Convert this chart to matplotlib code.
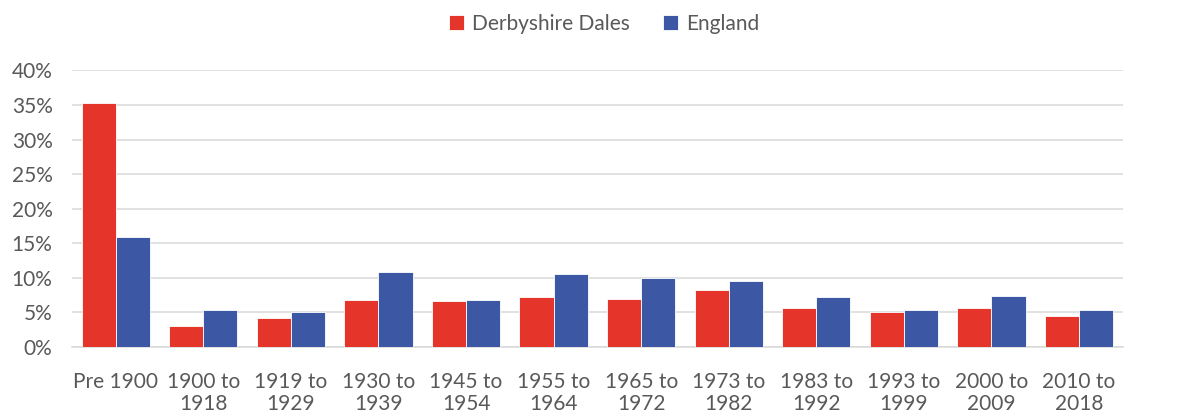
import matplotlib.pyplot as plt
from matplotlib.ticker import FuncFormatter
import numpy as np

periods = ['Pre 1900', '1900 to\n1918', '1919 to\n1929', '1930 to\n1939',
           '1945 to\n1954', '1955 to\n1964', '1965 to\n1972', '1973 to\n1982',
           '1983 to\n1992', '1993 to\n1999', '2000 to\n2009', '2010 to\n2018']
derbyshire = [35.3, 3.0, 4.2, 6.8, 6.7, 7.3, 6.9, 8.3, 5.6, 5.1, 5.6, 4.5]
england = [15.9, 5.4, 5.1, 10.8, 6.8, 10.5, 10.0, 9.5, 7.3, 5.3, 7.4, 5.4]

RED = '#E5352A'
BLUE = '#3C57A3'
TXT = '#595959'

plt.rcParams['font.family'] = ['Lato', 'DejaVu Sans']

fig = plt.figure(figsize=(11.78, 4.19), dpi=100)
ax = fig.add_axes([0.0611, 0.1718, 0.892, 0.66])

x = np.arange(len(periods))
w = 0.39
ax.bar(x - w / 2, derbyshire, w, color=RED, edgecolor='white', linewidth=0.6,
       label='Derbyshire Dales', zorder=3)
ax.bar(x + w / 2, england, w, color=BLUE, edgecolor='white', linewidth=0.6,
       label='England', zorder=3)

ax.set_xlim(-0.5, len(periods) - 0.5)
ax.set_ylim(0, 40)
ax.set_yticks(range(0, 41, 5))
ax.yaxis.set_major_formatter(FuncFormatter(lambda v, p: f'{v:.0f}%'))
ax.set_xticks(x)
ax.set_xticklabels(periods)
ax.grid(axis='y', color='#D9D9D9', linewidth=1.1, zorder=0)
for s in ['top', 'right', 'left']:
    ax.spines[s].set_visible(False)
ax.spines['bottom'].set_color('#D9D9D9')
ax.spines['bottom'].set_linewidth(1.1)
ax.tick_params(axis='both', length=0, labelsize=15, colors=TXT)
ax.tick_params(axis='x', pad=18)
ax.tick_params(axis='y', pad=14)
for t in ax.get_xticklabels():
    t.set_linespacing(1.1)

fig.legend(loc='upper center', bbox_to_anchor=(0.513, 1.012), ncol=2, frameon=False,
           fontsize=15, labelcolor=TXT, handlelength=0.7, handleheight=0.7,
           handletextpad=0.4, columnspacing=1.6)

fig.savefig('out.png', dpi=100)
